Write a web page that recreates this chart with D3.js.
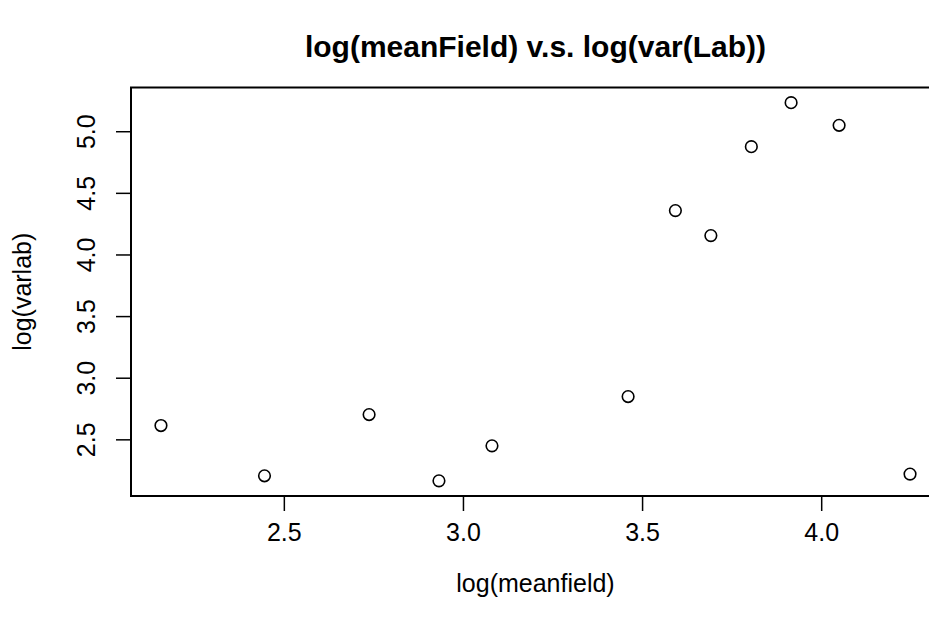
<!DOCTYPE html>
<html>
<head>
<meta charset="utf-8">
<script src="https://cdn.jsdelivr.net/npm/d3@7"></script>
<style>
  body { margin: 0; background: #fff; }
  svg { display: block; font-family: "Liberation Sans", Arial, sans-serif; }
</style>
</head>
<body>
<svg id="chart" width="929" height="618"></svg>
<script>
// values
const logMeanField = [2.157, 2.446, 2.738, 2.933, 3.081, 3.461, 3.593, 3.692, 3.805, 3.916, 4.050, 4.248];
const logVarLab    = [2.612, 2.204, 2.701, 2.163, 2.447, 2.847, 4.356, 4.153, 4.875, 5.232, 5.048, 2.218];
const xTicks = [2.5, 3.0, 3.5, 4.0];
const yTicks = [2.5, 3.0, 3.5, 4.0, 4.5, 5.0];

const box = {left: 131, right: 940, top: 87.5, bottom: 496};

// R style axis range: data extent padded by 4% each side
function padded(vals) {
  const [lo, hi] = d3.extent(vals);
  const p = (hi - lo) * 0.04;
  return [lo - p, hi + p];
}

const x = d3.scaleLinear().domain(padded(logMeanField)).range([box.left, box.right]);
const y = d3.scaleLinear().domain(padded(logVarLab)).range([box.bottom, box.top]);

const svg = d3.select("#chart");

// x axis
const xAxis = svg.append("g")
  .attr("transform", "translate(0," + box.bottom + ")")
  .call(d3.axisBottom(x).tickValues(xTicks).tickFormat(d3.format(".1f")).tickSize(15).tickPadding(12));
// y axis, labels turned like R's las=0
const yAxis = svg.append("g")
  .attr("transform", "translate(" + box.left + ",0)")
  .call(d3.axisLeft(y).tickValues(yTicks).tickFormat(d3.format(".1f")).tickSize(15).tickPadding(0));

[xAxis, yAxis].forEach(a => {
  a.select(".domain").remove();
  a.selectAll("line").attr("stroke", "#000").attr("stroke-width", 1.5);
  a.selectAll("text").attr("fill", "#000").style("font-size", "25px");
});
yAxis.selectAll("text")
  .attr("x", null).attr("dy", null)
  .attr("text-anchor", "middle")
  .attr("transform", "translate(-36,0) rotate(-90)");

// plot frame
svg.append("rect")
  .attr("x", box.left).attr("y", box.top)
  .attr("width", box.right - box.left).attr("height", box.bottom - box.top)
  .attr("fill", "none").attr("stroke", "#000").attr("stroke-width", 2);

// points
svg.append("g").selectAll("circle")
  .data(logMeanField.map((v, i) => [v, logVarLab[i]]))
  .join("circle")
  .attr("cx", d => x(d[0]))
  .attr("cy", d => y(d[1]))
  .attr("r", 5.8)
  .attr("fill", "none")
  .attr("stroke", "#000")
  .attr("stroke-width", 1.6);

// titles
const midX = (box.left + box.right) / 2;
svg.append("text")
  .attr("x", midX).attr("y", 57)
  .attr("text-anchor", "middle")
  .style("font-size", "30px").style("font-weight", "bold")
  .text("log(meanField) v.s. log(var(Lab))");

svg.append("text")
  .attr("x", midX).attr("y", 592)
  .attr("text-anchor", "middle")
  .style("font-size", "25px")
  .text("log(meanfield)");

svg.append("text")
  .attr("transform", "translate(31," + (box.top + box.bottom) / 2 + ") rotate(-90)")
  .attr("text-anchor", "middle")
  .style("font-size", "25px")
  .text("log(varlab)");
</script>
</body>
</html>
